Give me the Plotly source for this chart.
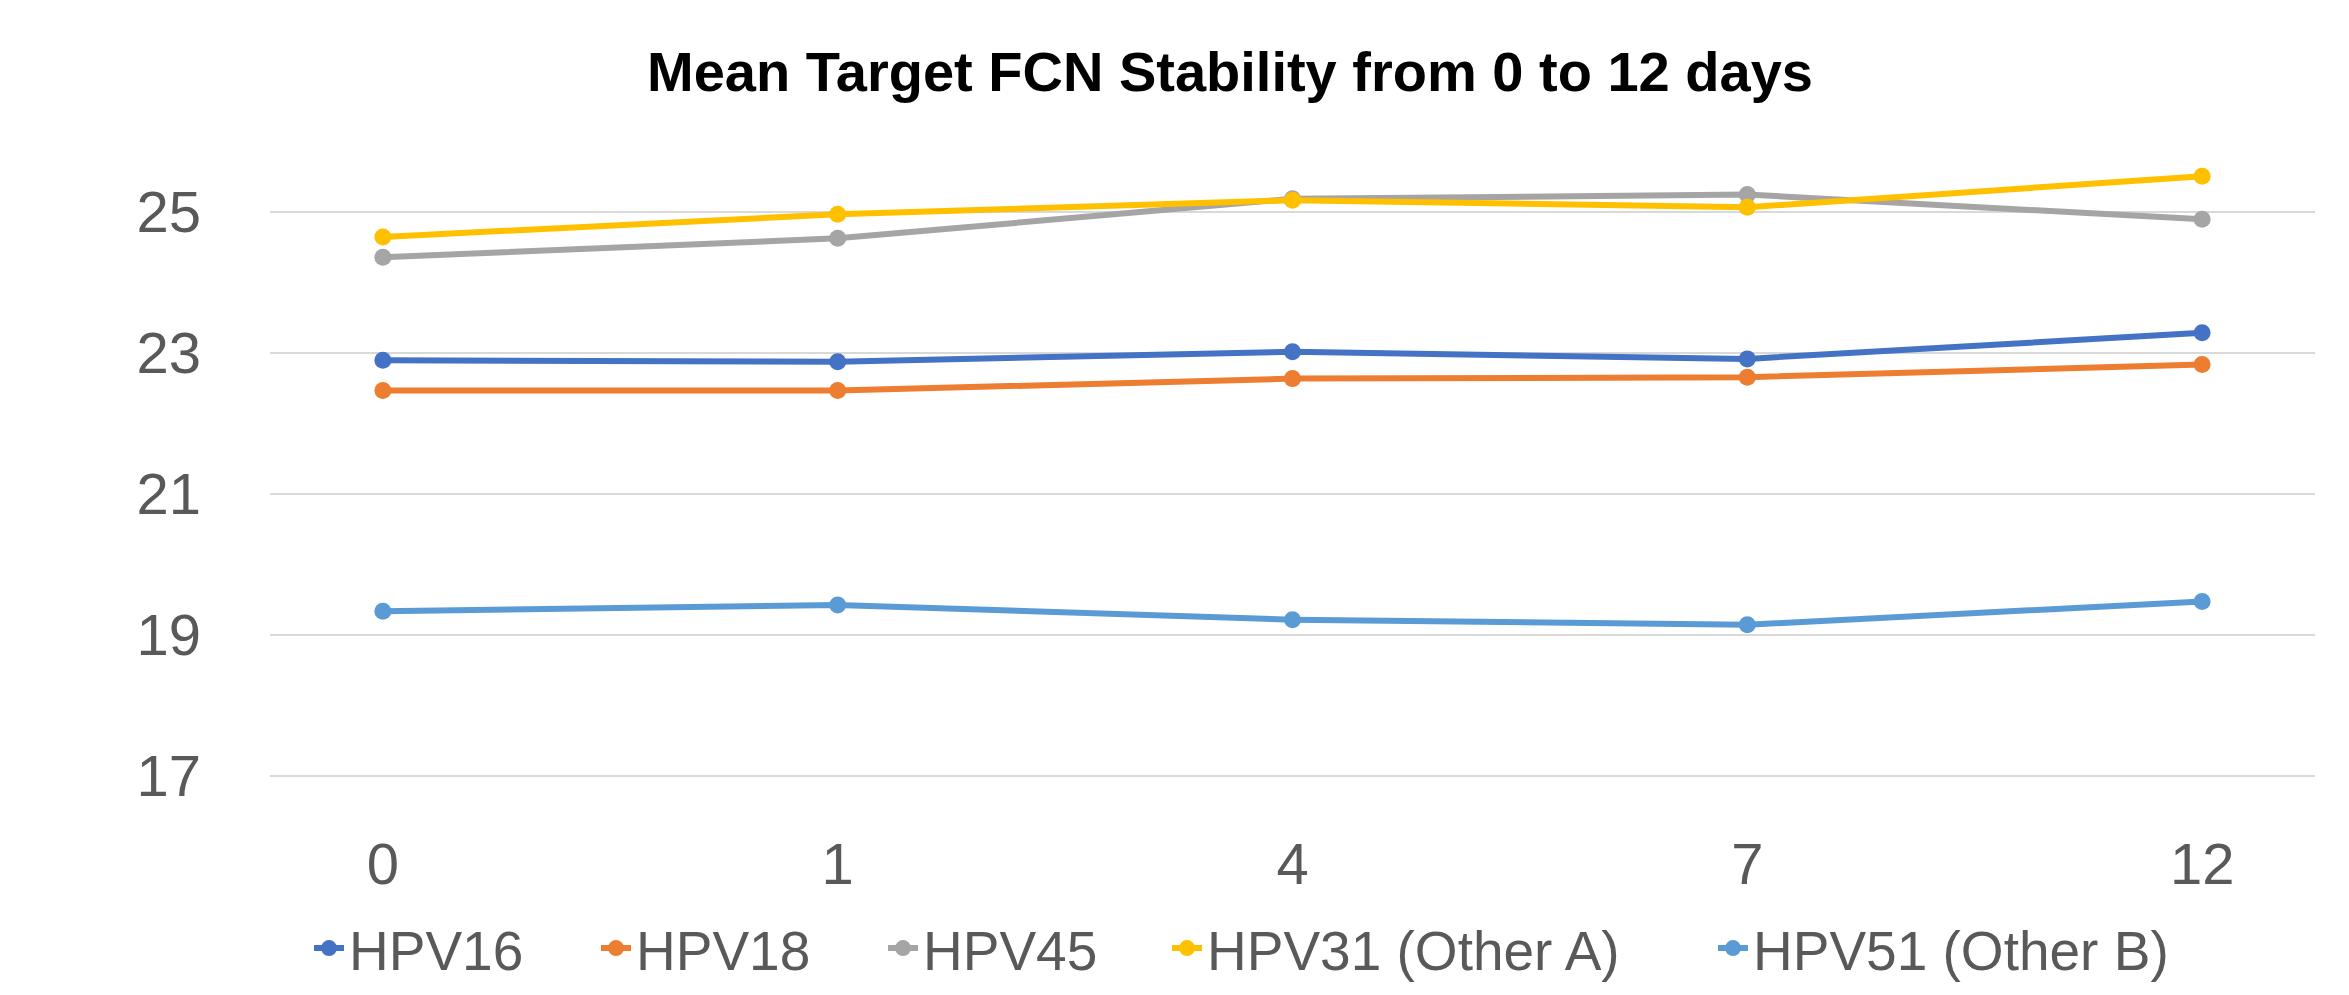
import plotly.graph_objects as go

days = ["0", "1", "4", "7", "12"]
hpv16 = [22.89, 22.87, 23.01, 22.91, 23.28]
hpv18 = [22.46, 22.46, 22.63, 22.65, 22.83]
hpv45 = [24.35, 24.62, 25.18, 25.24, 24.89]
hpv31 = [24.64, 24.96, 25.16, 25.06, 25.50]
hpv51 = [19.33, 19.42, 19.21, 19.14, 19.47]

names = ["HPV16", "HPV18", "HPV45", "HPV31 (Other A)", "HPV51 (Other B)"]
values = [hpv16, hpv18, hpv45, hpv31, hpv51]
colors = ["#4472C4", "#ED7D31", "#A5A5A5", "#FFC000", "#5B9BD5"]

FONT = "Liberation Sans, Arial, sans-serif"
W, H = 2349, 995
L, R, T, B = 262, 42, 133, 216
PW = W - L - R
PH = H - T - B

# legend text start positions (px) as in reference layout
legend_text_px = [352, 639, 926, 1210, 1756]

fig = go.Figure()
for i, (name, vals, color) in enumerate(zip(names, values, colors)):
    fig.add_trace(go.Scatter(
        x=days, y=vals, name=name, mode="lines+markers",
        line=dict(color=color, width=6),
        marker=dict(color=color, size=17),
        legend="legend" if i == 0 else f"legend{i+1}",
    ))

layout = dict(
    width=W, height=H,
    margin=dict(l=L, r=R, t=T, b=B),
    paper_bgcolor="white", plot_bgcolor="white",
    font=dict(family=FONT, color="#595959", size=55),
    title=dict(text="<b>Mean Target FCN Stability from 0 to 12 days</b>",
               x=1222 / W, xanchor="center", y=1 - 63 / H, yanchor="middle",
               yref="container",
               font=dict(family=FONT, size=56, color="#000000")),
    showlegend=True,
)
for i, tx in enumerate(legend_text_px):
    key = "legend" if i == 0 else f"legend{i+1}"
    layout[key] = dict(orientation="h", x=(tx - 51 - L) / PW, xanchor="left",
                       y=-(953 - (H - B)) / PH, yanchor="middle",
                       font=dict(family=FONT, size=55, color="#595959"),
                       bgcolor="rgba(0,0,0,0)")
fig.update_layout(**layout)

fig.update_xaxes(type="category", showgrid=False, zeroline=False, showline=False,
                 ticks="", tickfont=dict(size=58, color="#595959"),
                 ticklabelstandoff=48)
fig.update_yaxes(range=[16.98, 26], tickvals=[17, 19, 21, 23, 25], showgrid=True,
                 gridcolor="#D9D9D9", gridwidth=2, zeroline=False, showline=False,
                 ticks="", tickfont=dict(size=58, color="#595959"),
                 ticklabelstandoff=68)

fig.write_html("out.html")
